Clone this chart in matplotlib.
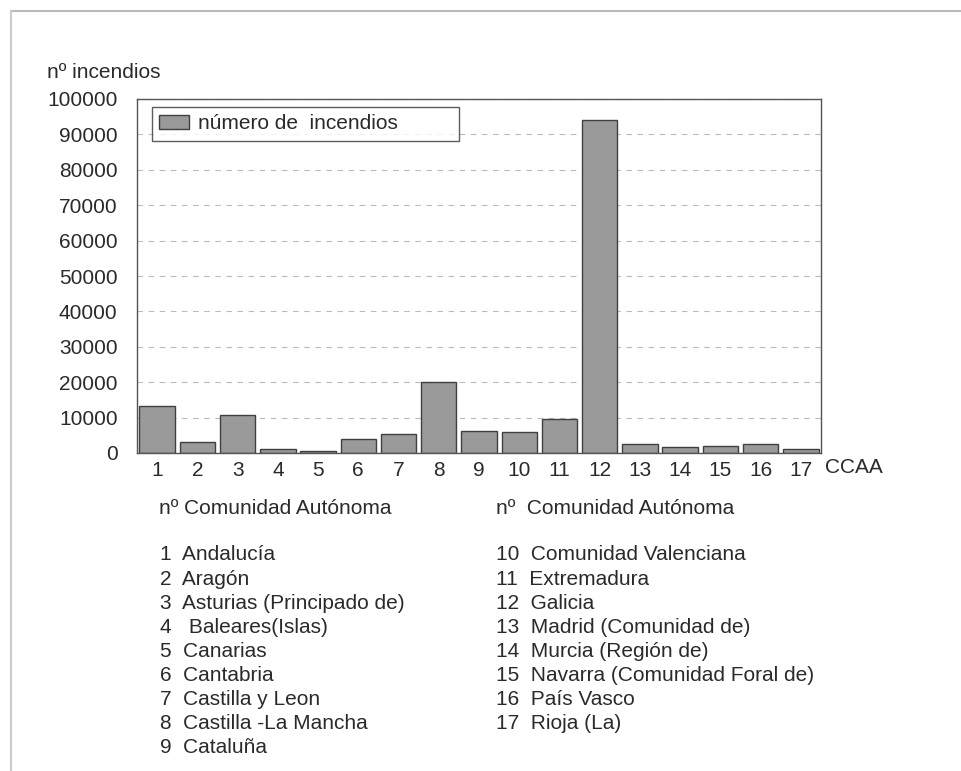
import matplotlib.pyplot as plt
from matplotlib.lines import Line2D

plt.rcParams['font.family'] = ['Liberation Sans', 'DejaVu Sans']
plt.rcParams['font.size'] = 15

# número de incendios por comunidad autónoma
ccaa = list(range(1, 18))
incendios = [13300, 3100, 10800, 1100, 600, 4000, 5300, 20100, 6200,
             6000, 9600, 94100, 2500, 1700, 2100, 2500, 1000]

nombres_1 = ["Andalucía", "Aragón", "Asturias (Principado de)", " Baleares(Islas)",
             "Canarias", "Cantabria", "Castilla y Leon", "Castilla -La Mancha",
             "Cataluña"]
nombres_2 = ["Comunidad Valenciana", "Extremadura", "Galicia",
             "Madrid (Comunidad de)", "Murcia (Región de)",
             "Navarra (Comunidad Foral de)", "País Vasco", "Rioja (La)"]

txt = '#2a2a2a'
W, H = 962, 771
fig = plt.figure(figsize=(W / 100, H / 100), dpi=100)
ax = fig.add_axes([137 / W, 1 - 453 / H, (821 - 137) / W, (453 - 99) / H])

ax.bar(ccaa, incendios, width=0.88, color='#9a9a9a', edgecolor='#404040',
       linewidth=1.0, label='número de  incendios', zorder=2)

ax.set_xlim(0.5, 17.5)
ax.set_ylim(0, 100000)
ax.set_yticks(range(0, 100001, 10000))
ax.set_xticks(ccaa)
ax.tick_params(length=0, labelsize=15, colors=txt)
ax.tick_params(axis='y', pad=14)
ax.tick_params(axis='x', pad=6)
ax.yaxis.grid(True, linestyle=(0, (5, 5)), color='#bbbbbb', linewidth=0.8, zorder=0)
for s in ax.spines.values():
    s.set_color('#555555')
    s.set_linewidth(1.0)

leg = ax.legend(loc='upper left', bbox_to_anchor=(0.022, 0, 0.449, 0.977),
                mode='expand', borderaxespad=0, fontsize=15, frameon=True,
                fancybox=False, borderpad=0.35, handlelength=1.4,
                handleheight=0.65, handletextpad=0.45, labelcolor=txt)
leg.get_frame().set_edgecolor('#333333')
leg.get_frame().set_linewidth(1.0)

fig.text(47 / W, 1 - 72 / H, 'nº incendios', va='center', color=txt)
fig.text(825 / W, 1 - 468 / H, 'CCAA', va='center', color=txt)

# listado de comunidades
fig.text(159 / W, 1 - 508 / H, 'nº Comunidad Autónoma', va='center', color=txt)
fig.text(496 / W, 1 - 508 / H, 'nº  Comunidad Autónoma', va='center', color=txt)
for i, n in enumerate(nombres_1):
    fig.text(160 / W, 1 - (555 + 24.1 * i) / H, f'{i + 1}  {n}',
             va='center', color=txt)
for i, n in enumerate(nombres_2):
    fig.text(496 / W, 1 - (555 + 24.1 * i) / H, f'{i + 10}  {n}',
             va='center', color=txt)

# marco exterior
fig.add_artist(Line2D([11 / W, 1], [1 - 11 / H, 1 - 11 / H], color='#bbbbbb', lw=1.5))
fig.add_artist(Line2D([11 / W, 11 / W], [0, 1 - 11 / H], color='#cccccc', lw=1.5))

fig.savefig('out.png', dpi=100)
